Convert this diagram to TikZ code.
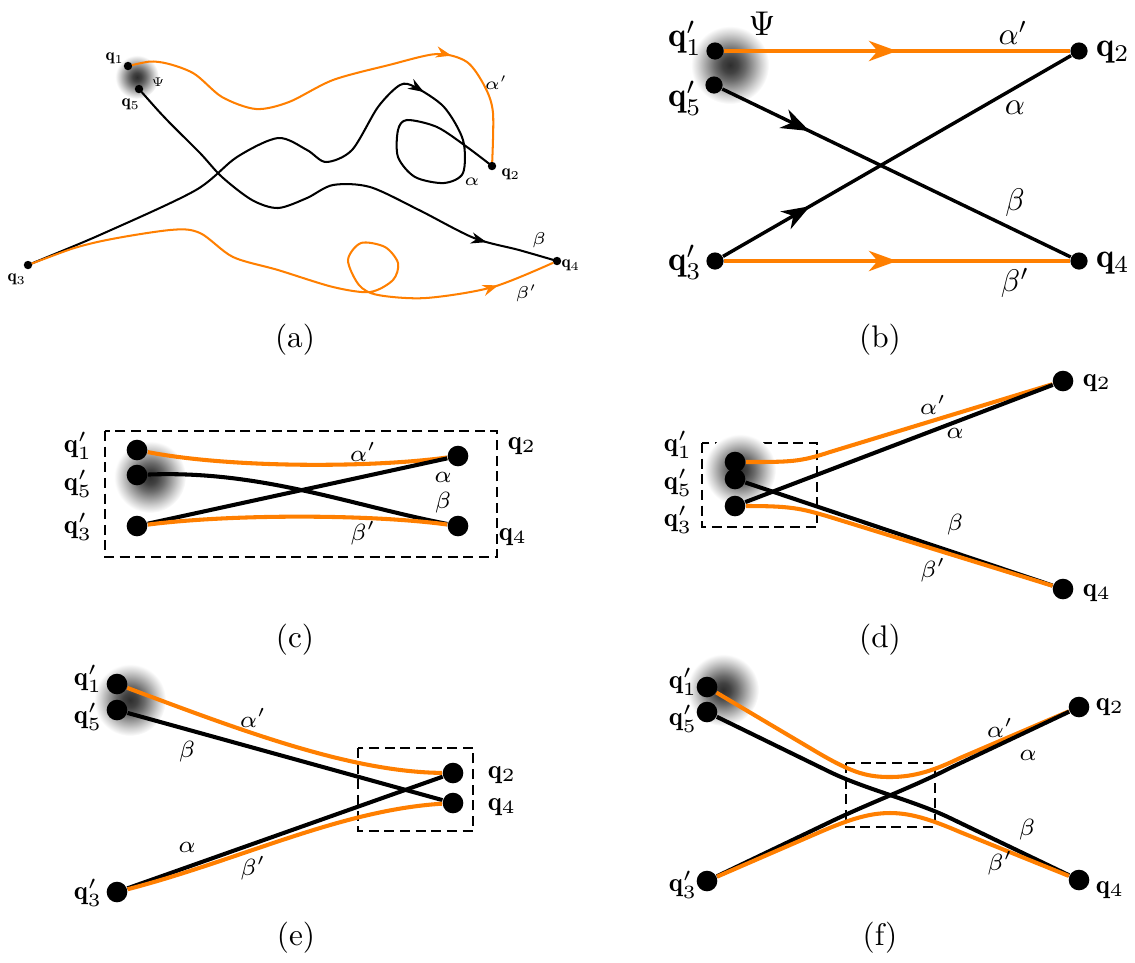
\RequirePackage{fix-cm}
\documentclass[tikz,border=0pt]{standalone}
\usepackage{fontspec}
\usetikzlibrary{arrows.meta,decorations.markings}
\definecolor{lift}{HTML}{FF7F00}
\pgfdeclareradialshading{blob}{\pgfpoint{0bp}{0bp}}{color(0bp)=(black!82); color(5bp)=(black!74); color(10bp)=(black!58); color(15bp)=(black!38); color(20bp)=(black!18); color(25bp)=(white); color(50bp)=(white)}

\begin{document}
\begin{tikzpicture}[x=0.32pt, y=-0.32pt,
    dota/.style={circle, fill=black, inner sep=0pt, minimum size=2.7pt},
    dotb/.style={circle, fill=black, inner sep=0pt, minimum size=5.5pt},
    dot/.style={circle, fill=black, inner sep=0pt, minimum size=6.6pt},
    wirea/.style={line width=0.65pt, line join=round, shorten <=1.3pt, shorten >=1.3pt},
    wireb/.style={line width=1.1pt},
    wire/.style={line width=1.3pt},
    zoomrect/.style={line width=0.9pt, dash pattern=on 3.2pt off 1.8pt},
    qa/.style={inner sep=0pt, font=\fontsize{5.5}{6}\selectfont},
    ga/.style={inner sep=0pt, font=\fontsize{5.5}{6}\selectfont},
    psia/.style={inner sep=0pt, font=\fontsize{4}{5}\selectfont},
    qb/.style={inner sep=0pt, font=\fontsize{11}{12}\selectfont},
    gb/.style={inner sep=0pt, font=\fontsize{10}{11}\selectfont},
    ql/.style={inner sep=0pt, font=\fontsize{8.5}{9}\selectfont},
    gl/.style={inner sep=0pt, font=\fontsize{7.5}{8}\selectfont},
    subcap/.style={inner sep=0pt, font=\fontsize{10}{12}\selectfont},
    arra/.style={postaction={decorate}, decoration={markings, mark=at position #1 with {\arrow{Stealth[length=5pt,width=3.6pt,inset=1.6pt]}}}},
    arrb/.style={postaction={decorate}, decoration={markings, mark=at position #1 with {\arrow{Stealth[length=9pt,width=6.5pt,inset=2.8pt]}}}}
]
\useasboundingbox (0,0) rectangle (1135,962);

% (a) raw trajectories
\shade[shading=blob] (137,77) circle (7pt);
\node[dota] (a1) at (128,66) {};
\node[dota] (a5) at (139,89) {};
\node[dota] (a2) at (492,166) {};
\node[dota] (a3) at (28,265) {};
\node[dota] (a4) at (557,261) {};

\draw[wirea, lift, arra=0.73] plot[smooth] coordinates {(a1.center) (159,62) (193,73) (222,97) (256,109) (289,102) (333,80) (389,65) (437,54) (467,62) (485,87) (493,113) (a2.center)};
\draw[wirea, arra=0.6] plot[smooth] coordinates {(a3.center) (111,230) (196,190) (237,157) (278,138) (307,150) (326,162) (352,150) (378,107) (400,85) (415,87) (444,107) (463,140) (463,173) (444,183) (415,177) (398,157) (398,130) (407,120) (437,127) (467,147) (a2.center)};
\draw[wirea, arra=0.85] plot[smooth] coordinates {(a5.center) (167,120) (200,153) (222,177) (252,200) (278,208) (307,198) (333,185) (370,187) (419,210) (474,238) (519,250) (a4.center)};
\draw[wirea, lift, arra=0.91] plot[smooth] coordinates {(a3.center) (93,243) (170,230) (200,233) (233,257) (278,270) (333,287) (370,292) (393,280) (398,263) (385,247) (361,243) (348,260) (359,285) (378,295) (426,298) (493,287) (a4.center)};

\node[qa] (a1l) at (115,58) {$\mathbf{q}_1$};
\node[qa] (a5l) at (131,104) {$\mathbf{q}_5$};
\node[qa] (a2l) at (511,174) {$\mathbf{q}_2$};
\node[qa] (a3l) at (17,279) {$\mathbf{q}_3$};
\node[qa] (a4l) at (571,265) {$\mathbf{q}_4$};
\node[psia] (apsi) at (158,82) {$\Psi$};
\node[ga] (aalp2) at (496,83) {$\alpha'$};
\node[ga] (aalp) at (472,182) {$\alpha$};
\node[ga] (abet) at (539,240) {$\beta$};
\node[ga] (abet2) at (526,293) {$\beta'$};
\node[subcap] (capa) at (295,340) {(a)};

% (b) straightened
\shade[shading=blob] (730,65) circle (12.5pt);
\node[dotb] (b1) at (715,51) {};
\node[dotb] (b5) at (714,85) {};
\node[dotb] (b3) at (715,261) {};
\node[dotb] (b2) at (1079,51) {};
\node[dotb] (b4) at (1079,261) {};

\draw[wireb, lift, arrb=0.5] (b1) -- (b2);
\draw[wireb, lift, arrb=0.5] (b3) -- (b4);
\draw[wireb, arrb=0.25] (b5) -- (b4);
\draw[wireb, arrb=0.25] (b3) -- (b2);

\node[qb] (b1l) at (685,38) {$\mathbf{q}'_1$};
\node[qb] (b5l) at (685,98) {$\mathbf{q}'_5$};
\node[qb] (b3l) at (685,262) {$\mathbf{q}'_3$};
\node[qb] (b2l) at (1113,52) {$\mathbf{q}_2$};
\node[qb] (b4l) at (1113,263) {$\mathbf{q}_4$};
\node[qb] (bpsi) at (762,24) {$\Psi$};
\node[gb] (balp2) at (1013,33) {$\alpha'$};
\node[gb] (balp) at (1015,108) {$\alpha$};
\node[gb] (bbet) at (1015,203) {$\beta$};
\node[gb] (bbet2) at (1015,283) {$\beta'$};
\node[subcap] (capb) at (880,340) {(b)};

% (c) all strands close together
\draw[zoomrect] (105,431) rectangle (497,557);
\shade[shading=blob] (150,477) circle (11.5pt);
\node[dot] (c1) at (137,450) {};
\node[dot] (c5) at (137,475) {};
\node[dot] (c3) at (137,526) {};
\node[dot] (c2) at (458,456) {};
\node[dot] (c4) at (458,526) {};

\draw[wire, lift] (c1) .. controls (230,468) and (370,468) .. (c2);
\draw[wire] (c5) .. controls (260,470) and (350,505) .. (c4);
\draw[wire] (c3) -- (c2);
\draw[wire, lift] (c3) .. controls (230,514) and (370,514) .. (c4);

\node[ql] (c1l) at (78,446) {$\mathbf{q}'_1$};
\node[ql] (c5l) at (78,484) {$\mathbf{q}'_5$};
\node[ql] (c3l) at (78,527) {$\mathbf{q}'_3$};
\node[ql] (c2l) at (522,446) {$\mathbf{q}_2$};
\node[ql] (c4l) at (513,537) {$\mathbf{q}_4$};
\node[gl] (calp2) at (363,452) {$\alpha'$};
\node[gl] (calp) at (443,477) {$\alpha$};
\node[gl] (cbet) at (443,503) {$\beta$};
\node[gl] (cbet2) at (363,533) {$\beta'$};
\node[subcap] (capc) at (295,640) {(c)};

% (d) start points grouped
\draw[zoomrect] (702,443) rectangle (817,527);
\shade[shading=blob] (740,470) circle (11.5pt);
\node[dot] (d1) at (735,462) {};
\node[dot] (d5) at (735,479) {};
\node[dot] (d3) at (735,506) {};
\node[dot] (d2) at (1063,381) {};
\node[dot] (d4) at (1063,589) {};

\draw[wire, lift] (d1) .. controls (790,462) and (800,462) .. (830,452) -- (d2);
\draw[wire] (d3) -- (d2);
\draw[wire] (d5) -- (d4);
\draw[wire, lift] (d3) .. controls (790,506) and (800,508) .. (830,517) -- (d4);

\node[ql] (d1l) at (678,445) {$\mathbf{q}'_1$};
\node[ql] (d5l) at (678,483) {$\mathbf{q}'_5$};
\node[ql] (d3l) at (678,520) {$\mathbf{q}'_3$};
\node[ql] (d2l) at (1097,383) {$\mathbf{q}_2$};
\node[ql] (d4l) at (1097,593) {$\mathbf{q}_4$};
\node[gl] (dalp2) at (933,405) {$\alpha'$};
\node[gl] (dalp) at (955,433) {$\alpha$};
\node[gl] (dbet) at (955,525) {$\beta$};
\node[gl] (dbet2) at (933,570) {$\beta'$};
\node[subcap] (capd) at (880,640) {(d)};

% (e) end points grouped
\draw[zoomrect] (358,748) rectangle (473,831);
\shade[shading=blob] (130,700) circle (11.5pt);
\node[dot] (e1) at (117,684) {};
\node[dot] (e5) at (117,710) {};
\node[dot] (e3) at (117,892) {};
\node[dot] (e2) at (453,773) {};
\node[dot] (e4) at (453,803) {};

\draw[wire, lift] (e1) .. controls (240,730) and (350,772) .. (e2);
\draw[wire] (e5) -- (e4);
\draw[wire] (e3) -- (e2);
\draw[wire, lift] (e3) .. controls (240,860) and (340,810) .. (e4);

\node[ql] (e1l) at (88,679) {$\mathbf{q}'_1$};
\node[ql] (e5l) at (88,717) {$\mathbf{q}'_5$};
\node[ql] (e3l) at (88,893) {$\mathbf{q}'_3$};
\node[ql] (e2l) at (502,775) {$\mathbf{q}_2$};
\node[ql] (e4l) at (502,807) {$\mathbf{q}_4$};
\node[gl] (ealp2) at (253,718) {$\alpha'$};
\node[gl] (ebet) at (187,752) {$\beta$};
\node[gl] (ealp) at (187,847) {$\alpha$};
\node[gl] (ebet2) at (253,868) {$\beta'$};
\node[subcap] (cape) at (296,938) {(e)};

% (f) crossing in the middle
\draw[zoomrect] (846,763) rectangle (935,827);
\shade[shading=blob] (723,690) circle (11.5pt);
\node[dot] (f1) at (707,687) {};
\node[dot] (f5) at (707,712) {};
\node[dot] (f3) at (707,881) {};
\node[dot] (f2) at (1079,707) {};
\node[dot] (f4) at (1079,880) {};

\draw[wire, lift] (f1) -- (810,748) .. controls (850,772) and (865,777) .. (890,777) .. controls (915,777) and (935,770) .. (960,758) -- (f2);
\draw[wire] (f5) -- (830,772) .. controls (865,789) and (915,801) .. (950,818) -- (f4);
\draw[wire] (f3) -- (830,822) .. controls (865,805) and (915,786) .. (950,768) -- (f2);
\draw[wire, lift] (f3) -- (820,832) .. controls (850,819) and (870,813) .. (890,813) .. controls (910,813) and (930,819) .. (960,832) -- (f4);

\node[ql] (f1l) at (683,682) {$\mathbf{q}'_1$};
\node[ql] (f5l) at (683,719) {$\mathbf{q}'_5$};
\node[ql] (f3l) at (683,885) {$\mathbf{q}'_3$};
\node[ql] (f2l) at (1110,707) {$\mathbf{q}_2$};
\node[ql] (f4l) at (1110,890) {$\mathbf{q}_4$};
\node[gl] (falp2) at (1000,728) {$\alpha'$};
\node[gl] (falp) at (1028,755) {$\alpha$};
\node[gl] (fbet) at (1027,830) {$\beta$};
\node[gl] (fbet2) at (1000,863) {$\beta'$};
\node[subcap] (capf) at (880,938) {(f)};

\end{tikzpicture}
\end{document}
